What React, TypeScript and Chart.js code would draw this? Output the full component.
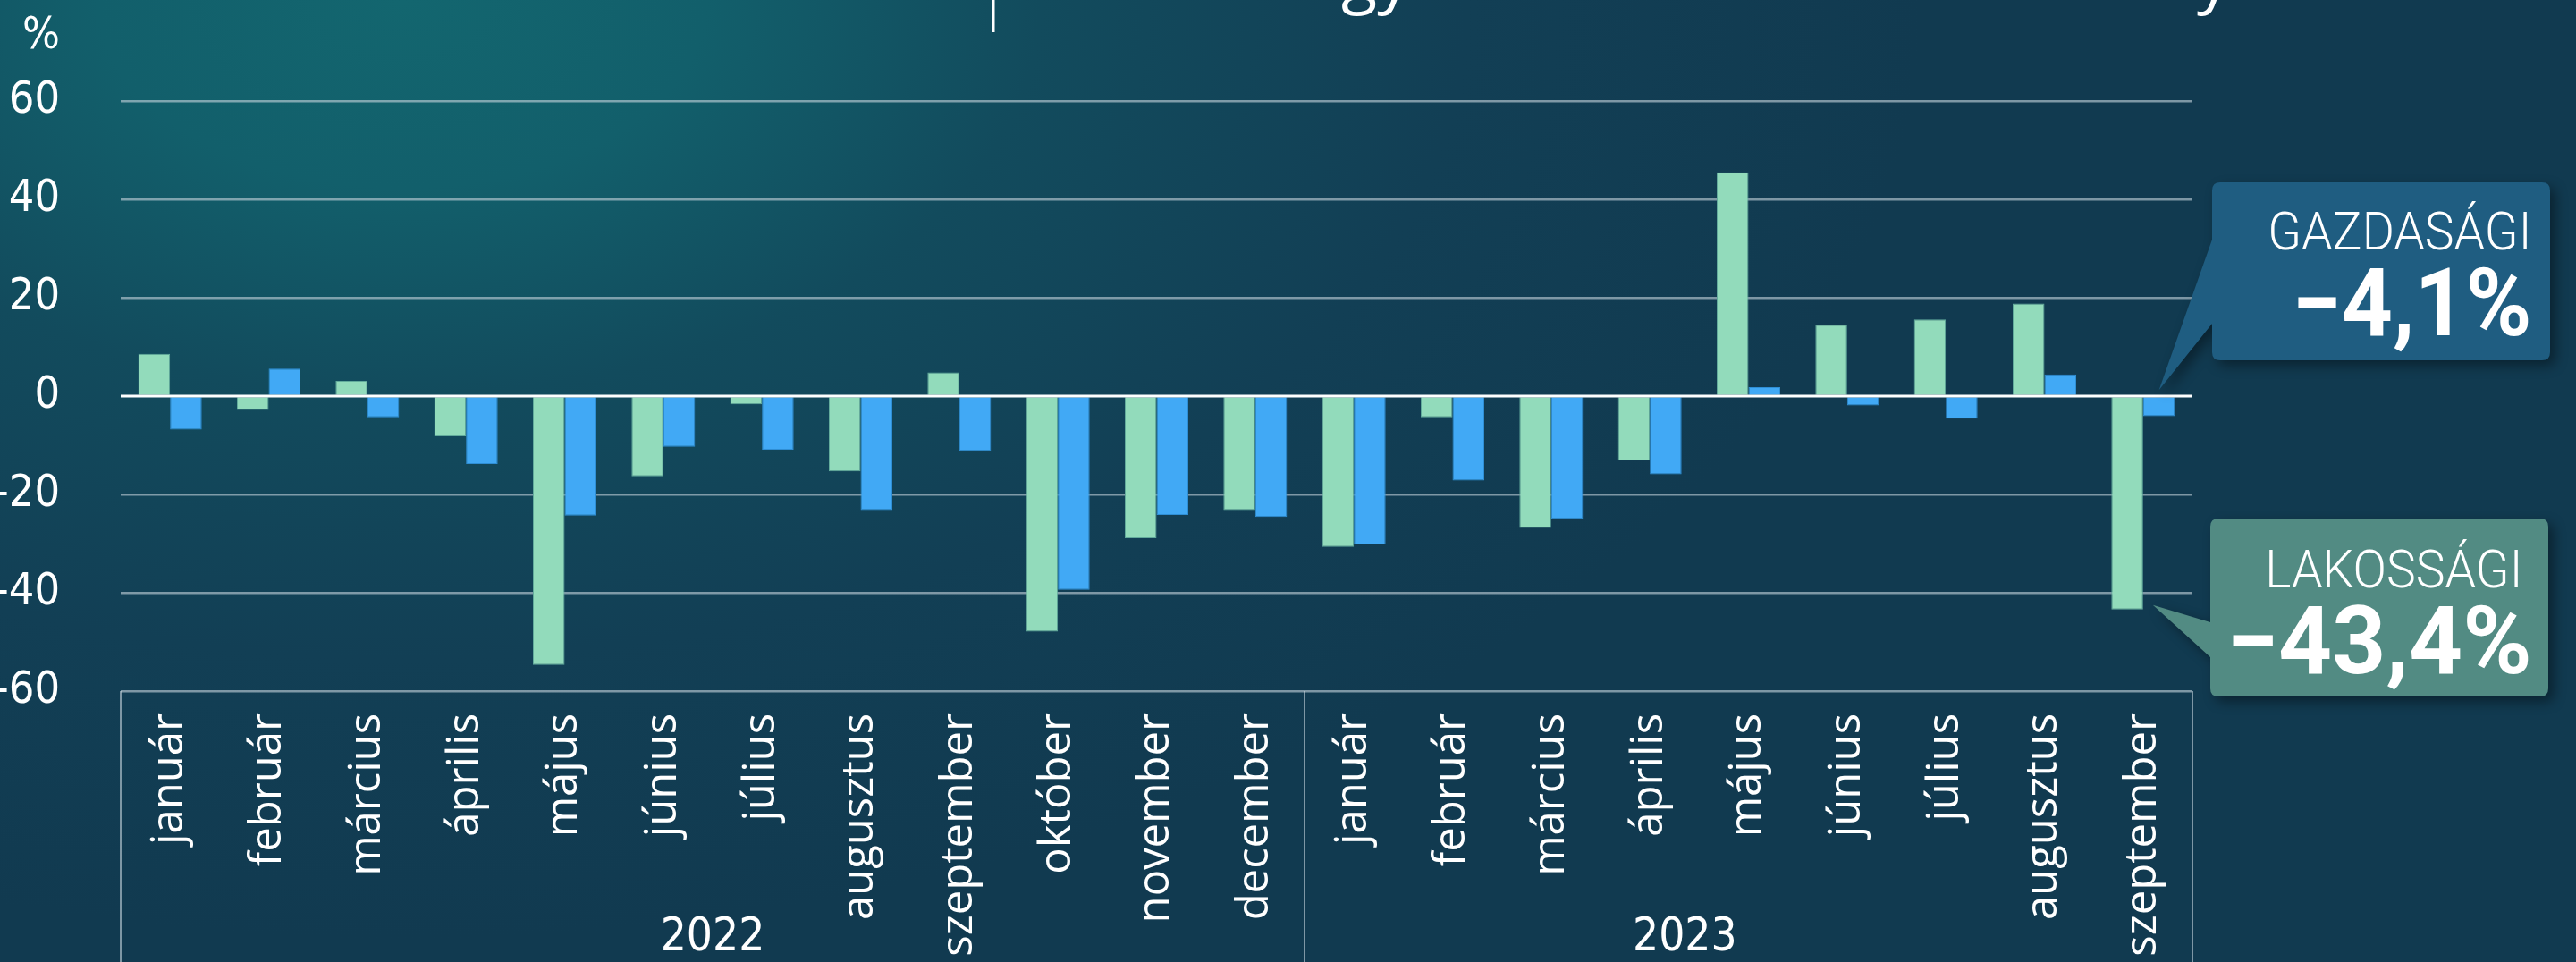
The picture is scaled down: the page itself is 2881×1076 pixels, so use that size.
import { useEffect, useRef } from 'react';
import { Chart, registerables } from 'chart.js';

Chart.register(...registerables);

const W = 2881;
const H = 1076;

const months = [
  'január', 'február', 'március', 'április', 'május', 'június', 'július', 'augusztus', 'szeptember', 'október', 'november', 'december',
  'január', 'február', 'március', 'április', 'május', 'június', 'július', 'augusztus', 'szeptember',
];
const yearLabels = ['2022', '2023'];
const yearCounts = [12, 9];

// LAKOSSÁGI (green)
const lakossagi = [8.6, -2.8, 3.1, -8.2, -54.7, -16.3, -1.7, -15.3, 4.8, -47.9, -28.9, -23.2, -30.7, -4.3, -26.8, -13.1, 45.5, 14.5, 15.6, 18.8, -43.4];
// GAZDASÁGI (blue)
const gazdasagi = [-6.8, 5.6, -4.3, -13.8, -24.3, -10.3, -10.9, -23.2, -11.2, -39.4, -24.2, -24.6, -30.2, -17.2, -25.0, -15.9, 1.8, -1.9, -4.6, 4.4, -4.1];

const yMin = -60;
const yMax = 60;
const yStep = 20;
const unitLabel = '%';

const calloutTitles = ['GAZDASÁGI', 'LAKOSSÁGI'];
const calloutValues = ['−4,1%', '−43,4%'];

const GREEN = '#92dbbb';
const BLUE = '#41a9f5';
const GRID = 'rgba(200,214,222,0.6)';
const CONDENSED = "'DejaVu Sans Condensed', 'Liberation Sans Narrow', 'Roboto Condensed', 'Open Sans', sans-serif";

function fitText(ctx: CanvasRenderingContext2D, text: string, rightX: number, baseline: number, font: string, targetW: number) {
  ctx.save();
  ctx.font = font;
  ctx.textAlign = 'left';
  ctx.textBaseline = 'alphabetic';
  const m = ctx.measureText(text);
  const L = m.actualBoundingBoxLeft;
  const R = m.actualBoundingBoxRight;
  const s = targetW / (L + R);
  ctx.translate(rightX, baseline);
  ctx.scale(s, 1);
  ctx.fillStyle = '#ffffff';
  ctx.fillText(text, -R, 0);
  ctx.restore();
}

function drawCallout(
  ctx: CanvasRenderingContext2D,
  bx: number, by: number, bw: number, bh: number,
  tipX: number, tipY: number, baseY1: number, baseY2: number,
  color: string,
) {
  ctx.save();
  const r = 9;
  ctx.beginPath();
  ctx.moveTo(bx + r, by);
  ctx.lineTo(bx + bw - r, by);
  ctx.quadraticCurveTo(bx + bw, by, bx + bw, by + r);
  ctx.lineTo(bx + bw, by + bh - r);
  ctx.quadraticCurveTo(bx + bw, by + bh, bx + bw - r, by + bh);
  ctx.lineTo(bx + r, by + bh);
  ctx.quadraticCurveTo(bx, by + bh, bx, by + bh - r);
  ctx.lineTo(bx, baseY2);
  ctx.lineTo(tipX, tipY);
  ctx.lineTo(bx, baseY1);
  ctx.lineTo(bx, by + r);
  ctx.quadraticCurveTo(bx, by, bx + r, by);
  ctx.closePath();
  ctx.shadowColor = 'rgba(0,0,0,0.4)';
  ctx.shadowBlur = 14;
  ctx.shadowOffsetX = 6;
  ctx.shadowOffsetY = 6;
  ctx.fillStyle = color;
  ctx.fill();
  ctx.restore();
}

const overlayPlugin = {
  id: 'overlay',
  afterDatasetsDraw(chart: any) {
    const { ctx, chartArea: ca, scales } = chart;
    const y0 = scales.y.getPixelForValue(0);
    ctx.save();
    ctx.strokeStyle = '#ffffff';
    ctx.lineWidth = 3;
    ctx.beginPath();
    ctx.moveTo(ca.left, y0);
    ctx.lineTo(ca.right, y0);
    ctx.stroke();
    ctx.restore();
  },
  afterDraw(chart: any) {
    const { ctx, chartArea: ca, scales } = chart;
    const x = scales.x;

    // category box lines
    ctx.save();
    ctx.strokeStyle = GRID;
    ctx.lineWidth = 2;
    const verticals: number[] = [ca.left];
    let idx = 0;
    const yearCenters: number[] = [];
    for (let i = 0; i < yearCounts.length; i++) {
      const start = idx;
      const end = idx + yearCounts[i] - 1;
      const half = Math.floor(yearCounts[i] / 2);
      const cx = (x.getPixelForValue(start + half - 1) + x.getPixelForValue(start + half)) / 2;
      yearCenters.push(yearCounts[i] % 2 === 0 ? cx : cx - 16);
      if (i < yearCounts.length - 1) {
        verticals.push((x.getPixelForValue(end) + x.getPixelForValue(end + 1)) / 2);
      }
      idx += yearCounts[i];
    }
    verticals.push(ca.right);
    verticals.forEach((vx) => {
      ctx.beginPath();
      ctx.moveTo(vx, ca.bottom);
      ctx.lineTo(vx, H);
      ctx.stroke();
    });
    ctx.restore();

    // year labels
    ctx.save();
    ctx.fillStyle = '#ffffff';
    ctx.font = `51px ${CONDENSED}`;
    ctx.textAlign = 'center';
    ctx.textBaseline = 'alphabetic';
    yearLabels.forEach((lbl, i) => {
      ctx.fillText(lbl, yearCenters[i], 1063);
    });
    // unit label
    ctx.font = `49px ${CONDENSED}`;
    ctx.textAlign = 'right';
    ctx.fillText(unitLabel, 67, 54);
    ctx.restore();

    // title fragments (cropped title above the visible area)
    ctx.save();
    ctx.fillStyle = '#ffffff';
    ctx.font = "74px 'Open Sans', sans-serif";
    ctx.textAlign = 'left';
    ctx.textBaseline = 'alphabetic';
    ctx.fillText('gy', 1500, 0);
    ctx.fillText('y', 2457, 0);
    ctx.fillRect(1110, 0, 2.5, 36);
    ctx.restore();

    // callouts
    const blueBar = chart.getDatasetMeta(1).data[gazdasagi.length - 1];
    const greenBar = chart.getDatasetMeta(0).data[lakossagi.length - 1];
    const bx = ca.right + 22;
    // GAZDASÁGI
    drawCallout(ctx, bx, 204, 378, 199, blueBar.x, blueBar.base - 8, 268, 362, '#1f5d81');
    fitText(ctx, calloutTitles[0], 2826, 279, "300 59px Roboto, 'Open Sans', sans-serif", 286);
    fitText(ctx, calloutValues[0], 2828, 375, "700 105px Roboto, 'Open Sans', sans-serif", 258);
    // LAKOSSÁGI
    drawCallout(ctx, bx - 2, 580, 378, 199, greenBar.x + greenBar.width / 2 + 11, greenBar.y - 5, 696, 735, '#528b83');
    fitText(ctx, calloutTitles[1], 2816, 657, "300 59px Roboto, 'Open Sans', sans-serif", 278);
    fitText(ctx, calloutValues[1], 2828, 753, "700 105px Roboto, 'Open Sans', sans-serif", 331);
  },
};

export default function App() {
  const ref = useRef<HTMLCanvasElement | null>(null);

  useEffect(() => {
    document.body.style.margin = '0';
    const canvas = ref.current;
    if (!canvas) return;
    const chart = new Chart(canvas, {
      type: 'bar',
      data: {
        labels: months,
        datasets: [
          {
            label: calloutTitles[1],
            data: lakossagi,
            backgroundColor: GREEN,
            borderColor: '#62ab9c',
            borderWidth: 1,
            categoryPercentage: 0.644,
            barPercentage: 1.0,
          },
          {
            label: calloutTitles[0],
            data: gazdasagi,
            backgroundColor: BLUE,
            borderColor: '#2f8ed4',
            borderWidth: 1,
            categoryPercentage: 0.644,
            barPercentage: 1.0,
          },
        ],
      },
      options: {
        responsive: false,
        animation: false,
        devicePixelRatio: 1,
        layout: { padding: { top: 113, right: W - 2452, bottom: 0, left: 0 } },
        plugins: {
          legend: { display: false },
          tooltip: { enabled: false },
          title: { display: false },
        },
        scales: {
          x: {
            grid: { display: false, drawTicks: false },
            border: { display: false },
            ticks: {
              color: '#ffffff',
              font: { family: "'Open Sans', sans-serif", size: 49 },
              maxRotation: 90,
              minRotation: 90,
              autoSkip: false,
              padding: 25,
            },
            afterFit: (scale: any) => {
              scale.height = H - 773;
            },
          },
          y: {
            min: yMin,
            max: yMax,
            grid: {
              drawTicks: false,
              color: (c: any) => (c.tick && c.tick.value === 0 ? 'rgba(0,0,0,0)' : GRID),
              lineWidth: 2.5,
            },
            border: { display: false },
            ticks: {
              stepSize: yStep,
              color: '#ffffff',
              font: { family: CONDENSED, size: 50 },
              padding: 68,
              callback: (v: any) => String(v),
            },
            afterFit: (scale: any) => {
              scale.width = 135;
            },
          },
        },
      },
      plugins: [overlayPlugin],
    });
    return () => chart.destroy();
  }, []);

  return (
    <div
      style={{
        position: 'relative',
        width: W,
        height: H,
        overflow: 'hidden',
        background:
          'radial-gradient(ellipse 1700px 1050px at 450px 0px, #13666f 0%, #125f6b 20%, #124b5d 42%, #123f55 70%, #113a50 100%)',
      }}
    >
      <canvas ref={ref} width={W} height={H} style={{ display: 'block', width: W, height: H }} />
    </div>
  );
}
